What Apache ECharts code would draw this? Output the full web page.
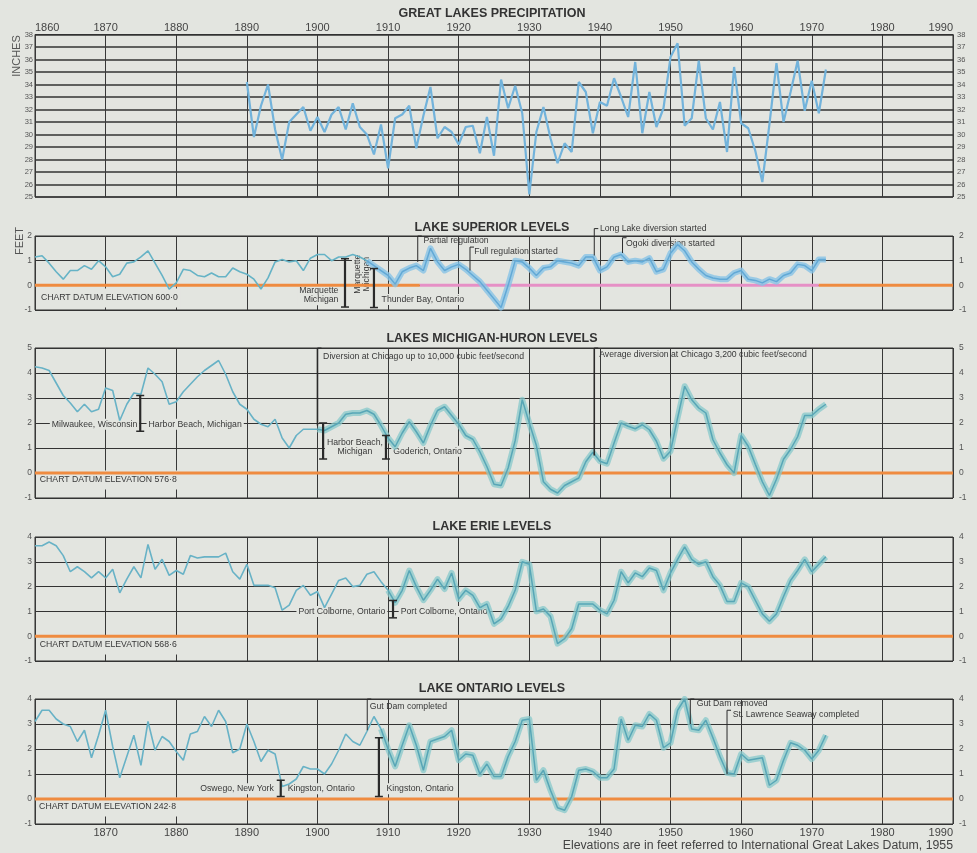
<!DOCTYPE html>
<html><head><meta charset="utf-8">
<script src="https://cdn.jsdelivr.net/npm/echarts@6/dist/echarts.min.js"></script>
<style>html,body{margin:0;padding:0;background:#e3e5e0;}#c{width:977px;height:853px;}</style>
</head><body><div id="c"></div>
<script>
// ---------------- DATA ----------------
const xTickYears = [1860,1870,1880,1890,1900,1910,1920,1930,1940,1950,1960,1970,1980,1990];
const precipStartYear = 1890;
const precipInches = [
  34.2,29.8,32.3,34.0,30.4,28.0,31.0,31.6,32.2,30.3,
  31.4,30.2,31.6,32.2,30.4,32.5,30.6,30.0,28.4,30.8,
  27.3,31.3,31.6,32.3,28.9,31.5,33.8,29.7,30.6,30.2,
  29.2,30.6,30.7,28.5,31.4,28.3,34.4,32.1,33.9,31.7,
  25.2,30.2,32.2,29.7,27.7,29.3,28.6,34.2,33.4,30.1,
  32.6,32.3,34.5,33.0,31.4,35.8,30.1,33.4,30.6,32.1,
  36.2,37.3,30.7,31.3,35.9,31.3,30.4,32.6,28.6,35.4,
  30.9,30.5,28.7,26.2,30.8,35.7,31.0,33.4,35.9,31.9,
  34.3,31.7,35.2
];
const levelStartYear = 1860;
const superiorFeet = [
  1.15,1.2,0.9,0.55,0.25,0.6,0.6,0.8,0.65,1.0,
  0.75,0.35,0.45,0.9,0.95,1.15,1.4,0.9,0.4,-0.15,
  0.1,0.65,0.6,0.4,0.35,0.5,0.35,0.35,0.7,0.55,
  0.45,0.25,-0.15,0.3,0.95,1.05,0.95,1.0,0.6,1.1,
  1.25,1.25,1.0,1.15,1.15,1.25,1.15,1.0,0.8,0.6,
  0.4,0.05,0.55,0.7,0.8,0.6,1.5,0.95,0.6,0.75,
  0.85,0.65,0.4,0.15,-0.2,-0.55,-0.9,0.0,1.0,0.95,
  0.7,0.4,0.7,0.75,1.0,0.95,0.9,0.8,1.15,1.15,
  0.6,0.75,1.15,1.25,0.95,1.0,0.95,1.1,0.55,0.65,
  1.3,1.65,1.4,0.95,0.65,0.4,0.3,0.25,0.25,0.5,
  0.6,0.25,0.2,0.1,0.25,0.15,0.4,0.5,0.85,0.8,
  0.6,1.05,1.05
];
const michiganHuronFeet = [
  4.25,4.2,4.1,3.6,3.1,2.8,2.45,2.75,2.45,2.55,
  3.4,3.3,2.1,2.75,3.2,3.15,4.2,3.95,3.65,2.75,
  2.85,3.25,3.55,3.85,4.1,4.3,4.5,3.95,3.25,2.75,
  2.55,2.15,1.95,1.85,2.15,1.4,1.0,1.5,1.75,1.75,
  1.75,1.7,1.85,2.0,2.35,2.4,2.4,2.5,2.35,1.9,
  1.4,1.05,1.6,2.05,1.65,1.2,1.9,2.5,2.65,2.3,
  1.95,1.5,1.35,0.85,0.25,-0.45,-0.5,0.2,1.3,2.93,
  2.0,1.1,-0.35,-0.65,-0.8,-0.5,-0.35,-0.2,0.45,0.83,
  0.47,0.37,1.2,2.0,1.87,1.77,1.93,1.73,1.27,0.57,
  0.87,2.2,3.47,2.93,2.6,2.4,1.33,0.8,0.33,0.0,
  1.5,1.07,0.35,-0.35,-0.9,-0.25,0.55,0.95,1.45,2.3,
  2.3,2.55,2.75
];
const erieFeet = [
  3.65,3.65,3.8,3.65,3.25,2.6,2.8,2.6,2.35,2.6,
  2.35,2.7,1.75,2.3,2.8,2.35,3.7,2.7,3.1,2.45,
  2.65,2.5,3.25,3.15,3.2,3.2,3.2,3.35,2.6,2.3,
  2.9,2.05,2.05,2.05,1.95,1.05,1.25,1.85,2.05,1.65,
  1.8,1.15,1.7,2.25,2.35,2.0,2.05,2.5,2.6,2.2,
  1.85,1.35,1.85,2.65,2.0,1.45,1.85,2.3,1.9,2.55,
  1.5,1.85,1.65,1.15,1.3,0.5,0.7,1.2,1.85,3.0,
  2.9,1.0,1.1,0.8,-0.3,-0.1,0.3,1.3,1.3,1.3,
  1.05,0.9,1.45,2.6,2.15,2.55,2.4,2.75,2.65,1.85,
  2.55,3.1,3.6,3.1,2.9,3.0,2.4,2.05,1.4,1.4,
  2.15,2.0,1.45,0.9,0.6,0.9,1.6,2.25,2.65,3.1,
  2.6,2.9,3.2
];
const ontarioFeet = [
  3.1,3.55,3.55,3.2,3.0,2.9,2.3,2.75,1.65,2.55,
  3.55,2.1,0.85,1.7,2.55,1.35,3.1,1.95,2.5,2.3,
  1.9,1.55,2.6,2.7,3.3,2.9,3.55,3.1,1.85,2.0,
  3.0,2.3,1.5,1.95,1.8,0.5,0.6,0.8,1.3,1.2,
  1.2,1.0,1.4,1.95,2.6,2.3,2.15,2.7,3.3,2.8,
  2.0,1.3,2.15,2.95,2.15,1.15,2.3,2.4,2.5,2.75,
  1.55,1.8,1.75,1.0,1.4,0.9,0.9,1.7,2.3,3.15,
  3.2,0.75,1.15,0.35,-0.35,-0.45,0.1,1.15,1.2,1.1,
  0.85,0.85,1.2,3.2,2.35,2.95,2.9,3.4,3.15,2.05,
  2.25,3.55,4.0,2.8,2.75,3.15,2.45,1.7,1.05,1.0,
  1.8,1.55,1.6,1.65,0.55,0.75,1.55,2.25,2.15,1.95,
  1.6,1.95,2.55
];
// year from which each record is drawn as a broad band
const bandFromYear = {superior:1907, michigan:1900, erie:1910, ontario:1909};
// Lake Superior datum: orange, then regulated stretch, then orange
const superiorDatumBreaks = [1914.5, 1971];

// annotations: [year, feet, text, anchor, masksGrid]
const superiorNotes = [
  [1860.55,-0.51,'CHART DATUM ELEVATION 600·0','left',true],
  [1903.25,-0.4,'Marquette\nMichigan','right',true],
  [1908.8,-0.57,'Thunder Bay, Ontario','left',true],
  [1915.0,1.82,'Partial regulation','left',false],
  [1922.2,1.35,'Full regulation started','left',false],
  [1940.0,2.3,'Long Lake diversion started','left',false],
  [1943.7,1.69,'Ogoki diversion started','left',false]
];
const superiorVerticalNotes = [[1906.3,0.45,'Marquette\nMichigan']];
const superiorGaugeBars = [[1903.9,1.08,-0.88],[1908.0,0.68,-0.9]];
const superiorEventMarks = [[1914.2,2.0,0.95],[1921.6,1.55,0.6],[1939.2,2.3,1.21],[1943.2,1.93,1.31]];

const michiganNotes = [
  [1900.8,4.67,'Diversion at Chicago up to 10,000 cubic feet/second','left',false],
  [1939.9,4.73,'Average diversion at Chicago 3,200 cubic feet/second','left',false],
  [1862.1,1.95,'Milwaukee, Wisconsin','left',true],
  [1875.8,1.95,'Harbor Beach, Michigan','left',true],
  [1905.3,1.03,'Harbor Beach,\nMichigan','center',true],
  [1910.45,0.87,'Goderich, Ontario','left',true],
  [1860.4,-0.28,'CHART DATUM ELEVATION 576·8','left',true]
];
const michiganGaugeBars = [[1874.9,3.1,1.67],[1900.8,2.0,0.56],[1909.7,1.5,0.56]];
const michiganEventMarks = [[1900.0,5.0,1.9],[1939.2,5.0,0.7]];

const erieNotes = [
  [1909.9,1.0,'Port Colborne, Ontario','right',true],
  [1911.5,1.0,'Port Colborne, Ontario','left',true],
  [1860.4,-0.35,'CHART DATUM ELEVATION 568·6','left',true]
];
const erieGaugeBars = [[1910.7,1.44,0.74]];
const erieEventMarks = [];

const ontarioNotes = [
  [1907.4,3.7,'Gut Dam completed','left',false],
  [1894.1,0.41,'Oswego, New York','right',true],
  [1895.5,0.41,'Kingston, Ontario','left',true],
  [1909.5,0.41,'Kingston, Ontario','left',true],
  [1953.7,3.8,'Gut Dam removed','left',false],
  [1958.8,3.36,'St. Lawrence Seaway completed','left',false],
  [1860.3,-0.32,'CHART DATUM ELEVATION 242·8','left',true]
];
const ontarioGaugeBars = [[1894.8,0.75,0.1],[1908.7,2.45,0.1]];
const ontarioEventMarks = [[1907.05,4.0,2.75],[1952.8,4.0,3.0],[1958.0,3.55,1.0]];

// ---------------- LAYOUT / STYLE ----------------
const BG = '#e3e5e0';
const FONT = '"Liberation Sans", Arial, sans-serif';
const INK = '#2e2e2e';
const panels = [
  {top:34.5, height:162.5, min:25, max:38},
  {top:236, height:74, min:-1, max:2},
  {top:348, height:150, min:-1, max:5},
  {top:537, height:124, min:-1, max:4},
  {top:699, height:125, min:-1, max:4}
];
const titles = [
  ['GREAT LAKES PRECIPITATION',14],
  ['LAKE SUPERIOR LEVELS',228],
  ['LAKES MICHIGAN-HURON LEVELS',339],
  ['LAKE ERIE LEVELS',527],
  ['LAKE ONTARIO LEVELS',689]
];

const grid = panels.map(p => ({left:35, right:24, top:p.top, height:p.height, show:true,
  borderColor:INK, borderWidth:1, backgroundColor:'transparent'}));

const xAxis = panels.map((p,i) => ({
  gridIndex:i, type:'value', min:xTickYears[0], max:xTickYears[xTickYears.length-1], interval:10,
  position: i===0 ? 'top' : 'bottom',
  axisLine:{show:false}, axisTick:{show:false},
  splitLine:{show:true, lineStyle:{color:'#383838', width:1}},
  axisLabel:{show: i===0 || i===4, fontSize:11, color:'#444', fontFamily:FONT, margin: i===0 ? 1 : 3,
    alignMinLabel:'left', alignMaxLabel:'right',
    formatter: v => (i===4 && v===xTickYears[0]) ? '' : String(v)}
}));

const yAxis = [];
panels.forEach((p,i) => yAxis.push({
  gridIndex:i, type:'value', min:p.min, max:p.max, interval:1, position:'left',
  axisLine:{show:false}, axisTick:{show:false},
  splitLine:{show:true, lineStyle:{color:'#333', width: i===0 ? 1.5 : 1}},
  axisLabel:{fontSize: i===0 ? 7.5 : 8.5, color:'#555', fontFamily:FONT, margin: i===0 ? 2 : 3}
}));
panels.forEach((p,i) => yAxis.push({
  gridIndex:i, type:'value', min:p.min, max:p.max, interval:1, position:'right',
  axisLine:{show:false}, axisTick:{show:false}, splitLine:{show:false},
  axisLabel:{fontSize: i===0 ? 7.5 : 8.5, color:'#555', fontFamily:FONT, margin: i===0 ? 4 : 6}
}));

const series = [];
function pts(start, vals){ return vals.map((v,k)=>[start+k, v]); }

// precipitation
series.push({type:'line', xAxisIndex:0, yAxisIndex:0, data:pts(precipStartYear, precipInches),
  symbol:'none', lineStyle:{color:'#72b3db', width:2.2}, z:5, silent:true});

function lake(gi, vals, from, thin, band, core){
  const all = pts(levelStartYear, vals);
  series.push({type:'line', xAxisIndex:gi, yAxisIndex:gi, data:all.filter(q=>q[0]<=from),
    symbol:'none', lineStyle:{color:thin, width:1.6}, z:5, silent:true});
  series.push({type:'line', xAxisIndex:gi, yAxisIndex:gi, data:all.filter(q=>q[0]>=from),
    symbol:'none', lineStyle:{color:band, width:6, join:'round'}, z:4, silent:true});
  series.push({type:'line', xAxisIndex:gi, yAxisIndex:gi, data:all.filter(q=>q[0]>=from),
    symbol:'none', lineStyle:{color:core, width:1.5}, z:5, silent:true});
}
lake(1, superiorFeet, bandFromYear.superior, '#66b3c6', 'rgba(135,195,230,0.8)', '#62a9d6');
lake(2, michiganHuronFeet, bandFromYear.michigan, '#68b2c6', 'rgba(135,200,203,0.75)', '#58a6b6');
lake(3, erieFeet, bandFromYear.erie, '#68b2c6', 'rgba(135,200,203,0.75)', '#58a6b6');
lake(4, ontarioFeet, bandFromYear.ontario, '#68b2c6', 'rgba(135,200,203,0.75)', '#58a6b6');

// datum lines
const x0 = xTickYears[0], x1 = xTickYears[xTickYears.length-1];
const supSeg = [[x0, superiorDatumBreaks[0], '#ef8b40'], [superiorDatumBreaks[0], superiorDatumBreaks[1], '#e690c6'], [superiorDatumBreaks[1], x1, '#ef8b40']];
supSeg.forEach(s => series.push({type:'line', xAxisIndex:1, yAxisIndex:1, data:[[s[0],0],[s[1],0]],
  symbol:'none', lineStyle:{color:s[2], width:3}, z:3, silent:true}));
[2,3,4].forEach(gi => series.push({type:'line', xAxisIndex:gi, yAxisIndex:gi, data:[[x0,0],[x1,0]],
  symbol:'none', lineStyle:{color:'#ef8b40', width:3}, z:3, silent:true}));

// notes
function notes(gi, arr){
  series.push({type:'custom', xAxisIndex:gi, yAxisIndex:gi, z:2, silent:true,
    data:arr.map(n=>[n[0],n[1]]),
    renderItem:(params, api) => {
      const n = arr[params.dataIndex];
      const p = api.coord([n[0], n[1]]);
      const st = {text:n[2], fill:'#383838', fontSize:8.7, fontFamily:FONT, align:n[3],
        verticalAlign:'middle', lineHeight:9};
      if (n[4]) { st.backgroundColor = BG; st.padding = n[2].indexOf('CHART')===0 ? [5,3,5,2] : [1,2]; }
      return {type:'text', x:p[0], y:p[1], style:st};
    }});
}
function vnotes(gi, arr){
  series.push({type:'custom', xAxisIndex:gi, yAxisIndex:gi, z:2, silent:true,
    data:arr.map(n=>[n[0],n[1]]),
    renderItem:(params, api) => {
      const n = arr[params.dataIndex];
      const p = api.coord([n[0], n[1]]);
      return {type:'text', x:p[0], y:p[1], rotation:Math.PI/2,
        style:{text:n[2], fill:'#383838', fontSize:8.7, fontFamily:FONT, align:'center',
          verticalAlign:'middle', lineHeight:9, backgroundColor:BG, padding:[1,1]}};
    }});
}
function gaugeBars(gi, arr){
  series.push({type:'custom', xAxisIndex:gi, yAxisIndex:gi, z:6, silent:true,
    data:arr.map(b=>[b[0],b[1],b[2]]),
    renderItem:(params, api) => {
      const b = arr[params.dataIndex];
      const a = api.coord([b[0], b[1]]), c = api.coord([b[0], b[2]]);
      const s = {stroke:'#2a2a2a', lineWidth:1.5};
      return {type:'group', children:[
        {type:'line', shape:{x1:a[0],y1:a[1],x2:c[0],y2:c[1]}, style:{stroke:'#2a2a2a', lineWidth:2.2}},
        {type:'line', shape:{x1:a[0]-4,y1:a[1],x2:a[0]+4,y2:a[1]}, style:s},
        {type:'line', shape:{x1:c[0]-4,y1:c[1],x2:c[0]+4,y2:c[1]}, style:s}
      ]};
    }});
}
function eventMarks(gi, arr, width){
  if (!arr.length) return;
  series.push({type:'custom', xAxisIndex:gi, yAxisIndex:gi, z:6, silent:true,
    data:arr.map(b=>[b[0],b[1],b[2]]),
    renderItem:(params, api) => {
      const b = arr[params.dataIndex];
      const a = api.coord([b[0], b[1]]), c = api.coord([b[0], b[2]]);
      return {type:'group', children:[
        {type:'line', shape:{x1:a[0],y1:a[1],x2:c[0],y2:c[1]}, style:{stroke:'#2a2a2a', lineWidth:width}},
        {type:'line', shape:{x1:a[0],y1:a[1],x2:a[0]+4,y2:a[1]}, style:{stroke:'#2a2a2a', lineWidth:1}}
      ]};
    }});
}
notes(1, superiorNotes); vnotes(1, superiorVerticalNotes); gaugeBars(1, superiorGaugeBars); eventMarks(1, superiorEventMarks, 1);
notes(2, michiganNotes); gaugeBars(2, michiganGaugeBars); eventMarks(2, michiganEventMarks, 1.6);
notes(3, erieNotes); gaugeBars(3, erieGaugeBars); eventMarks(3, erieEventMarks, 1);
notes(4, ontarioNotes); gaugeBars(4, ontarioGaugeBars); eventMarks(4, ontarioEventMarks, 1);

const graphic = titles.map(t => ({type:'text', x:492, y:t[1], silent:true,
  style:{text:t[0], align:'center', verticalAlign:'middle', fontSize:12.5, fontWeight:'bold', fontFamily:FONT, fill:'#333'}}));
graphic.push({type:'text', x:17, y:56, rotation:Math.PI/2, silent:true,
  style:{text:'INCHES', align:'center', verticalAlign:'middle', fontSize:11, fontFamily:FONT, fill:'#555'}});
graphic.push({type:'text', x:20, y:241, rotation:Math.PI/2, silent:true,
  style:{text:'FEET', align:'center', verticalAlign:'middle', fontSize:11, fontFamily:FONT, fill:'#555'}});
graphic.push({type:'text', x:953, y:846, silent:true,
  style:{text:'Elevations are in feet referred to International Great Lakes Datum, 1955', align:'right', verticalAlign:'middle', fontSize:12.3, fontFamily:FONT, fill:'#444'}});

const chart = echarts.init(document.getElementById('c'));
chart.setOption({backgroundColor:BG, animation:false, grid, xAxis, yAxis, series, graphic});
</script></body></html>
